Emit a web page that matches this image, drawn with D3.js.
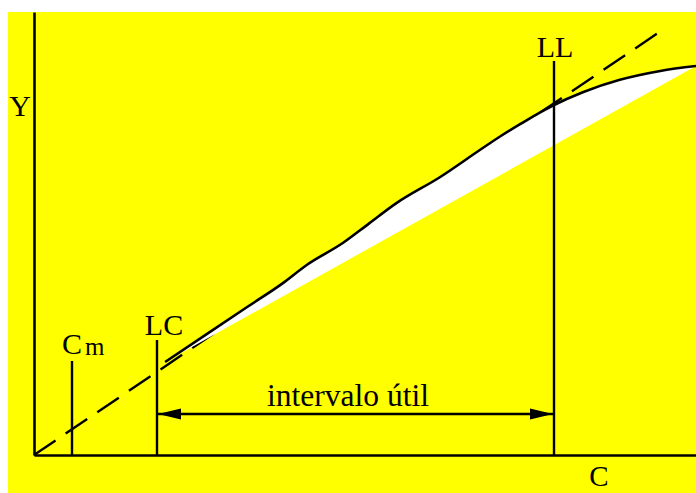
<!DOCTYPE html>
<html>
<head>
<meta charset="utf-8">
<script src="https://cdn.jsdelivr.net/npm/d3@7"></script>
<style>
  html, body { margin: 0; padding: 0; background: #ffffff; }
  svg { display: block; }
  text { font-family: "Liberation Serif", "Times New Roman", serif; fill: #000; }
</style>
</head>
<body>
<script>
// Calibration curve: measured response Y against concentration C
const concentration = [19.8, 32.2, 37.6, 41.2, 46.7, 50.3, 54.8, 61.3, 67.4, 70.4, 73.9, 76.4, 78.4, 82.9, 88.5, 94.6, 100];
const response      = [21.0, 33.4, 38.8, 42.9, 47.9, 51.9, 56.9, 62.7, 68.9, 71.9, 75.1, 77.3, 78.9, 81.9, 84.7, 86.7, 87.8];

// Ideal linear response (dashed)
const idealC = [0, 94.3];
const idealY = [0, 95.3];

// Characteristic concentrations
const limitNames  = ["Cm", "LC", "LL"];
const limitValues = [5.74, 18.58, 78.55];

const rangeLabel = "intervalo útil";
const axisLabels = ["C", "Y"];

const W = 696, H = 493;
const svg = d3.select("body").append("svg").attr("width", W).attr("height", H);

// Yellow panel
svg.append("rect").attr("x", 8).attr("y", 12).attr("width", W - 8).attr("height", H - 12).attr("fill", "#ffff00");

const x = d3.scaleLinear().domain([0, 100]).range([34, 696]);
const y = d3.scaleLinear().domain([0, 100]).range([455, 12]);

// Axes (plain domain lines)
svg.append("g").attr("transform", `translate(0,${y(0)})`)
  .call(d3.axisBottom(x).tickValues([]).tickSizeOuter(0))
  .call(g => g.select(".domain").attr("stroke", "#000").attr("stroke-width", 2.6));
svg.append("g").attr("transform", `translate(${x(0)},0)`)
  .call(d3.axisLeft(y).tickValues([]).tickSizeOuter(0))
  .call(g => g.select(".domain").attr("stroke", "#000").attr("stroke-width", 2.6));

// Ideal dashed line
svg.append("line")
  .attr("x1", x(idealC[0])).attr("y1", y(idealY[0]))
  .attr("x2", x(idealC[1])).attr("y2", y(idealY[1]))
  .attr("stroke", "#000").attr("stroke-width", 2.4).attr("stroke-dasharray", "26,12.2");

// White band between the measured curve and its chord (covers the ideal line inside it)
const pts = concentration.map((c, i) => [c, response[i]]);
const curve = d3.line().x(d => x(d[0])).y(d => y(d[1])).curve(d3.curveMonotoneX);
svg.append("path").attr("d", curve(pts) + "Z").attr("fill", "#ffffff").attr("stroke", "none");

// Measured curve
svg.append("path").attr("d", curve(pts)).attr("fill", "none")
  .attr("stroke", "#000").attr("stroke-width", 2.6).attr("stroke-linejoin", "round");

// Vertical markers
const markerTop = { Cm: 361, LC: 340, LL: 61 };
limitNames.forEach((name, i) => {
  const xv = x(limitValues[i]);
  svg.append("line").attr("x1", xv).attr("x2", xv).attr("y1", markerTop[name]).attr("y2", y(0))
    .attr("stroke", "#000").attr("stroke-width", 2.4);
});

// Labels of markers
const fs = 30;
const cmX = x(limitValues[0]);
const cm = svg.append("text").attr("x", cmX - 10).attr("y", 354).attr("font-size", fs);
cm.append("tspan").text("C");
cm.append("tspan").attr("dx", 3).attr("dy", 1).attr("font-size", 25).text("m");
svg.append("text").attr("x", x(limitValues[1]) + 7).attr("y", 335).attr("font-size", fs)
  .attr("text-anchor", "middle").text(limitNames[1]);
svg.append("text").attr("x", x(limitValues[2]) + 1).attr("y", 57).attr("font-size", fs)
  .attr("text-anchor", "middle").text(limitNames[2]);

// Axis labels
svg.append("text").attr("x", 599).attr("y", 486).attr("font-size", 29).attr("text-anchor", "middle").text(axisLabels[0]);
svg.append("text").attr("x", 20).attr("y", 116).attr("font-size", fs).attr("text-anchor", "middle").text(axisLabels[1]);

// Useful range double arrow
const defs = svg.append("defs");
["end", "start"].forEach(k => {
  defs.append("marker").attr("id", "arr-" + k)
    .attr("markerUnits", "userSpaceOnUse")
    .attr("viewBox", "0 0 23 12").attr("refX", 23).attr("refY", 6)
    .attr("markerWidth", 23).attr("markerHeight", 12)
    .attr("orient", k === "end" ? "auto" : "auto-start-reverse")
    .append("path").attr("d", "M0,0.5 L23,6 L0,11.5 Z").attr("fill", "#000");
});
const arrowY = 414;
svg.append("line")
  .attr("x1", x(limitValues[1]) + 1).attr("x2", x(limitValues[2]) - 1)
  .attr("y1", arrowY).attr("y2", arrowY)
  .attr("stroke", "#000").attr("stroke-width", 2.4)
  .attr("marker-start", "url(#arr-start)").attr("marker-end", "url(#arr-end)");
svg.append("text").attr("x", 348).attr("y", 406).attr("font-size", 31.5)
  .attr("text-anchor", "middle").text(rangeLabel);
</script>
</body>
</html>
